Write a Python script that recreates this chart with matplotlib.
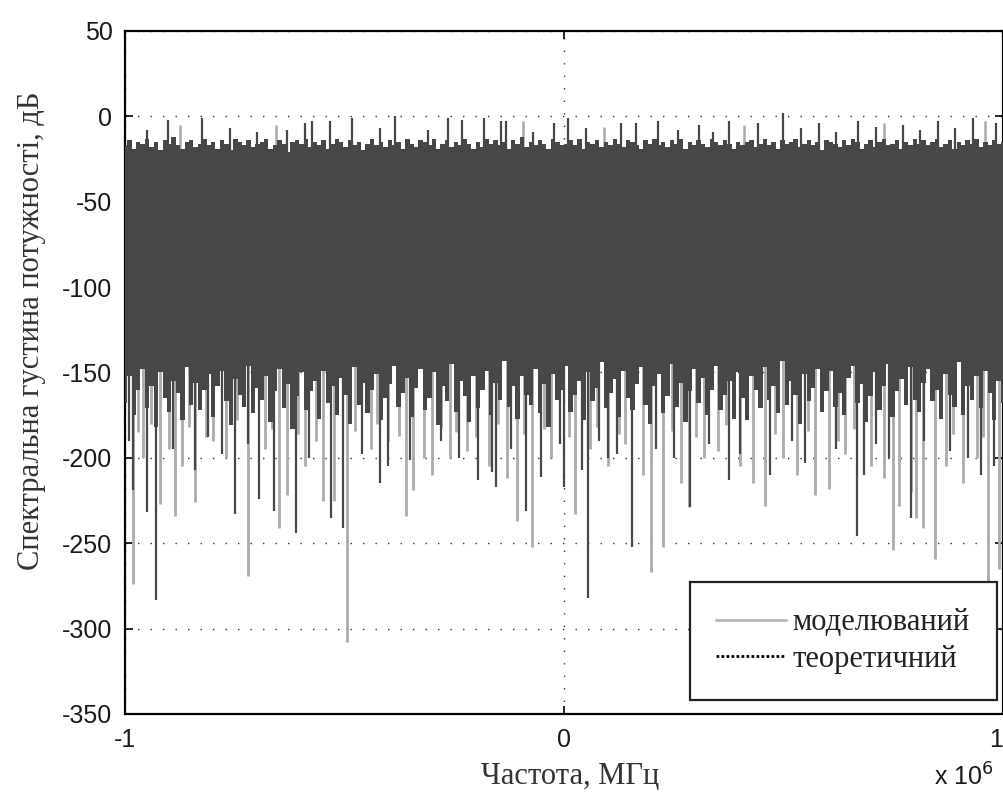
import matplotlib
matplotlib.use('Agg')
import matplotlib.pyplot as plt
import numpy as np

plt.rcParams['axes.unicode_minus'] = False

# Частотна вісь смуги (МГц), 200 бінів від -1 до 1
N_BINS = 200

# Верхня межа щільної смуги, дБ
band_top = [
    -17, -14, -19, -15, -16, -13, -18, -15, -20, -14, -16, -12, -17, -19, -15, -14, -18, -16, -13, -17,
    -15, -19, -14, -16, -20, -13, -15, -17, -14, -18, -16, -15, -13, -19, -17, -14, -16, -21, -15, -14,
    -16, -13, -18, -15, -17, -14, -19, -16, -13, -15, -18, -14, -17, -15, -20, -16, -13, -17, -15, -18,
    -14, -17, -15, -19, -13, -16, -18, -14, -15, -17, -13, -19, -16, -14, -18, -15, -17, -13, -16, -19,
    -15, -18, -13, -16, -14, -17, -15, -19, -14, -16, -12, -18, -15, -17, -14, -16, -19, -13, -15, -17,
    -16, -14, -17, -13, -19, -15, -16, -14, -18, -15, -17, -13, -16, -18, -14, -15, -17, -19, -14, -16,
    -13, -17, -15, -18, -14, -16, -13, -19, -15, -17, -14, -16, -18, -13, -15, -17, -14, -16, -19, -15,
    -17, -15, -14, -18, -16, -13, -17, -15, -19, -14, -16, -15, -13, -18, -16, -14, -17, -15, -20, -14,
    -15, -16, -18, -14, -17, -13, -15, -19, -16, -14, -18, -15, -13, -17, -16, -14, -19, -15, -17, -13,
    -16, -14, -17, -15, -13, -18, -16, -14, -19, -15, -17, -14, -16, -13, -18, -15, -17, -14, -16, -15,
]

# Нижня межа щільної смуги, дБ
band_bottom = [
    -168, -152, -175, -160, -148, -171, -158, -182, -150, -165, -173, -155, -162, -178, -147, -169, -156, -172, -160, -151,
    -176, -158, -149, -167, -181, -154, -163, -170, -146, -174, -159, -166, -152, -179, -161, -148, -171, -157, -183, -164,
    -150, -172, -161, -155, -177, -149, -168, -158, -175, -153, -163, -180, -147, -169, -156, -174, -160, -151, -178, -165,
    -157, -146, -170, -162, -153, -176, -159, -148, -172, -165, -150, -181, -158, -167, -145, -173, -155, -164, -179, -152,
    -171, -160, -149, -175, -156, -166, -143, -170, -158, -177, -152, -163, -169, -148, -174, -157, -182, -151, -166, -160,
    -146, -173, -163, -155, -178, -150, -167, -159, -144, -171, -162, -154, -176, -149, -165, -172, -157, -147, -169, -180,
    -158, -151, -174, -164, -145, -170, -156, -179, -161, -148, -168, -153, -175, -160, -146, -172, -163, -155, -177, -150,
    -165, -178, -152, -160, -171, -147, -166, -158, -174, -143, -169, -155, -163, -180, -151, -167, -159, -148, -173, -161,
    -149, -170, -162, -175, -153, -146, -168, -157, -179, -164, -150, -172, -158, -145, -176, -161, -154, -169, -147, -166,
    -173, -156, -148, -167, -160, -177, -151, -163, -170, -144, -175, -158, -166, -152, -171, -149, -162, -178, -155, -168,
]

# Піки вгору (МГц, дБ)
peak_dark_f = [-0.95, -0.902, -0.825, -0.76, -0.70, -0.63, -0.589, -0.573, -0.532, -0.482, -0.42, -0.386,
               -0.31, -0.264, -0.232, -0.182, -0.143, -0.132, -0.07, -0.023, 0.009, 0.05, 0.13, 0.164,
               0.214, 0.26, 0.307, 0.34, 0.375, 0.443, 0.5, 0.54, 0.58, 0.62, 0.67, 0.71, 0.773,
               0.81, 0.852, 0.89, 0.932, 0.984]
peak_dark_db = [-8, -2, -1, -7, -9, -8, -4, -3, -3, -1, -7, 0,
                -8, -1, -2, -1, -3, -3, -9, -4, -1, -7, -4, -4,
                -3, -8, -5, -9, -3, -4, 2, -7, -4, -9, -3, -6, -5,
                -8, -3, -7, -1, -4]
peak_gray_f = [-0.875, -0.655, -0.093, 0.09, 0.41, 0.73, 0.96]
peak_gray_db = [-5, -5, -3, -6, -5, -4, -3]

# Провали моделюваного спектра (світлі), МГц / дБ
dip_gray_f = [-0.982, -0.97, -0.96, -0.94, -0.92, -0.90, -0.886, -0.87, -0.855, -0.84, -0.815, -0.80,
              -0.77, -0.745, -0.72, -0.68, -0.665, -0.65, -0.63, -0.605, -0.59, -0.565, -0.55, -0.525,
              -0.495, -0.475, -0.44, -0.425, -0.40, -0.375, -0.36, -0.343, -0.318, -0.30, -0.28,
              -0.26, -0.245, -0.22, -0.20, -0.17, -0.15, -0.13, -0.107, -0.09, -0.072, -0.045, -0.03,
              0.012, 0.025, 0.06, 0.075, 0.10, 0.125, 0.14, 0.18, 0.198, 0.225, 0.245, 0.266, 0.284,
              0.30, 0.32, 0.35, 0.37, 0.40, 0.43, 0.459, 0.48, 0.50, 0.53, 0.556, 0.572, 0.603,
              0.625, 0.64, 0.66, 0.70, 0.73, 0.75, 0.764, 0.79, 0.801, 0.818, 0.845, 0.87,
              0.885, 0.91, 0.94, 0.955, 0.966, 0.99]
dip_gray_db = [-274, -185, -200, -180, -227, -195, -234, -205, -182, -226, -188, -190,
               -200, -178, -269, -195, -183, -241, -222, -186, -205, -190, -225, -225,
               -308, -184, -195, -180, -190, -187, -234, -219, -200, -210, -182,
               -200, -185, -196, -188, -205, -180, -212, -237, -186, -252, -183, -200,
               -188, -233, -195, -182, -205, -186, -192, -210, -267, -252, -184, -215, -229,
               -188, -200, -196, -181, -205, -215, -228, -186, -200, -210, -184, -222, -218,
               -190, -198, -183, -205, -212, -254, -228, -220, -235, -241, -259, -205,
               -186, -215, -200, -188, -272, -265]

# Провали теоретичної кривої (темні), МГц / дБ
dip_dark_f = [-0.99, -0.981, -0.95, -0.93, -0.89, -0.84, -0.81, -0.78, -0.75, -0.72, -0.695, -0.66,
              -0.61, -0.58, -0.53, -0.504, -0.46, -0.418, -0.40, -0.35, -0.28, -0.24, -0.195, -0.165,
              -0.155, -0.12, -0.086, -0.052, -0.01, 0.0, 0.04, 0.055, 0.08, 0.10, 0.12, 0.155,
              0.21, 0.25, 0.288, 0.33, 0.377, 0.40, 0.47, 0.52, 0.55, 0.62, 0.668, 0.684,
              0.71, 0.74, 0.79, 0.82, 0.88, 0.92, 0.951, 0.98]
dip_dark_db = [-190, -219, -232, -283, -195, -207, -188, -198, -233, -192, -224, -231,
               -244, -200, -235, -241, -198, -215, -205, -201, -190, -200, -213, -208,
               -217, -195, -231, -211, -192, -217, -207, -282, -190, -200, -198, -252,
               -195, -200, -229, -192, -213, -198, -210, -190, -203, -195, -246, -210,
               -192, -200, -235, -190, -196, -200, -210, -205]

DARK = '#474747'
LIGHT = '#ababab'
SANS = 'Liberation Sans'
SERIF = 'Liberation Serif'

fig = plt.figure(figsize=(10.04, 7.95), dpi=100)
ax = fig.add_axes([0.1245, 0.1019, 0.8745, 0.8592])

freq = np.linspace(-1, 1, N_BINS) * 1e6

# світлі лінії моделювання під темною смугою
ax.vlines(np.array(dip_gray_f) * 1e6, dip_gray_db, -30, color=LIGHT, lw=2.0, zorder=2)
ax.vlines(np.array(peak_gray_f) * 1e6, -30, peak_gray_db, color=LIGHT, lw=1.8, zorder=2)

# щільна смуга спектра
ax.fill_between(freq, band_bottom, band_top, step='mid', color=DARK, lw=0, zorder=3)
ax.vlines(np.array(peak_dark_f) * 1e6, -30, peak_dark_db, color=DARK, lw=1.6, zorder=3)
ax.vlines(np.array(dip_dark_f) * 1e6, dip_dark_db, -120, color=DARK, lw=1.6, zorder=3)

# елементи легенди
ax.plot([], [], color='#b4b4b4', lw=1.8, label='моделюваний')
ax.plot([], [], color='black', lw=2.0, ls=(0, (1, 0.8)), label='теоретичний')

ax.set_xlim(-1e6, 1e6)
ax.set_ylim(-350, 50)
ax.set_xticks([-1e6, 0, 1e6])
ax.set_xticklabels(['-1', '0', '1'])
ax.set_yticks(np.arange(-350, 51, 50))
ax.grid(True, color='#333333', ls=(0, (1, 8)), lw=1.0, zorder=1)
ax.set_axisbelow(True)

ax.tick_params(direction='in', length=6, width=1.2, top=True, right=True,
               labelsize=18, labelcolor='#1a1a1a')
ax.tick_params(axis='y', pad=9)
ax.tick_params(axis='x', pad=10)
for lab in ax.get_xticklabels() + ax.get_yticklabels():
    lab.set_fontfamily(SANS)
ax.get_xticklabels()[-1].set_horizontalalignment('right')
for sp in ax.spines.values():
    sp.set_linewidth(1.6)

ax.set_ylabel('Спектральна густина потужності, дБ', fontfamily=SERIF,
              fontsize=22, color='#333333')
ax.yaxis.set_label_coords(-0.09, 0.561)
ax.set_xlabel('Частота, МГц', fontfamily=SERIF, fontsize=22, color='#333333')
ax.xaxis.set_label_coords(0.507, -0.07)
fig.text(0.93, 0.012, r'x 10$^6$', fontfamily=SANS, fontsize=18, color='#1a1a1a')

leg = ax.legend(loc='lower left', bbox_to_anchor=(0.6435, 0.0205, 0.3497, 0.17),
                mode='expand', borderaxespad=0, fancybox=False, framealpha=1,
                edgecolor='#222222', handlelength=2.3, handletextpad=0.2,
                borderpad=0.85, labelspacing=0.25,
                prop={'family': SERIF, 'size': 22})
leg.get_frame().set_linewidth(1.6)
for txt in leg.get_texts():
    txt.set_color('#222222')

fig.savefig('out.png', dpi=100)
